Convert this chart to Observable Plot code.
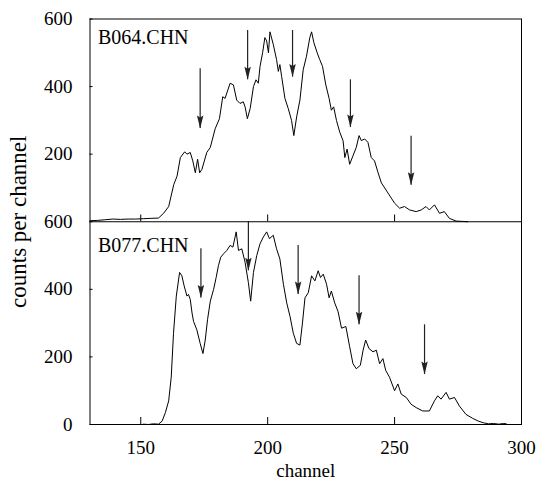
<!DOCTYPE html>
<html>
<head>
<meta charset="utf-8">
<script src="https://cdn.jsdelivr.net/npm/d3@7"></script>
<script src="https://cdn.jsdelivr.net/npm/@observablehq/plot@0.6"></script>
<style>
  body { margin: 0; background: #fff; }
</style>
</head>
<body>
<div id="chart"></div>
<script>
// ---- data (channel, counts per channel) ----
const panelNames = ["B064.CHN", "B077.CHN"];
const xLabel = "channel";
const yLabel = "counts per channel";

const b064 = [
  [130,3],[133,4],[136,6],[139,8],[142,7],[145,8],[148,8],[151,9],[154,10],[157,11],
  [159,25],[161,45],[163,110],[164.3,135],[165.6,190],[167.3,207],[168.2,200],[169.5,205],
  [170.5,180],[171.5,145],[172.4,185],[173.2,145],[174.1,155],[176,205],[177.4,220],
  [179.3,275],[181,305],[182.3,370],[183.2,365],[185.2,410],[186.5,405],[187.8,360],
  [189.1,350],[190.4,355],[191.1,340],[192,305],[193.1,335],[194.4,400],[195.4,420],
  [196.3,410],[197,460],[198,500],[198.9,545],[199.6,535],[200.3,500],[200.9,562],
  [202.2,525],[203.5,480],[204.2,445],[204.8,465],[205.5,430],[206.8,365],[208.1,335],
  [209.4,300],[210.3,255],[211.4,310],[212.7,360],[214,450],[215.3,490],[216.6,545],
  [217.3,562],[218.2,530],[219.5,500],[220.5,480],[221.6,460],[222.9,405],[224.2,365],
  [225.1,330],[226,340],[227.1,300],[228.4,265],[229.7,240],[230.4,190],[231.3,215],
  [232.3,170],[233.6,195],[234.9,220],[236,255],[236.9,240],[238.2,245],[239.5,235],
  [240.8,190],[242.1,180],[243.5,145],[244.8,115],[246.1,100],[247.4,85],[248.7,70],
  [250,55],[252,40],[253.9,45],[255.9,35],[258.5,30],[260.5,35],[262.4,45],[263.7,35],
  [265.7,50],[267.7,25],[269.6,30],[271.6,10],[274.2,2],[276.8,1],[278.8,0]
];

const b077 = [
  [151,1],[153,0],[155,2],[157,1],[158.4,10],[159.7,35],[161,70],[162,140],[162.9,270],
  [164,380],[165.3,450],[166.2,440],[167.1,410],[168.2,380],[168.8,385],[169.5,370],
  [170.2,330],[170.8,305],[172.1,280],[173.4,240],[174.5,210],[175.4,250],[176.3,310],
  [177.4,365],[178.7,400],[179.7,435],[180.6,470],[181.5,495],[182.6,505],[183.9,515],
  [185.2,530],[186.3,525],[187.6,570],[188.5,515],[189.8,520],[191.1,480],[192.4,420],
  [193.3,365],[194.4,450],[195.7,500],[197,535],[198.3,555],[199.6,570],[200.7,550],
  [202.2,560],[203.5,520],[204.8,490],[206.2,415],[207.5,360],[208.8,320],[210.1,270],
  [211.4,240],[212.7,235],[213.7,300],[214.7,375],[216,390],[217.3,440],[218.6,425],
  [219.9,455],[220.8,435],[221.9,445],[223.2,415],[224.2,375],[225.1,395],[226.4,360],
  [227.7,335],[229.1,285],[230.8,290],[232.3,230],[233.6,180],[234.9,165],[236.5,175],
  [237.6,220],[238.6,250],[239.9,225],[241.5,215],[242.8,220],[244.1,180],[245.4,195],
  [246.5,160],[248,140],[250,100],[251.3,120],[252.6,90],[254.6,80],[256.5,60],[258.5,50],
  [261.1,40],[263.7,40],[265.7,70],[267,85],[268.3,75],[270.3,95],[271.6,75],[273.6,80],
  [275.5,55],[278.1,30],[280.8,18],[283,10],[285,5],[287,2],[289,3],[291,1],[293,3],[294,2]
];

// arrows: channel, start count, tip count
const arrowsTopX    = [173.4, 192.1, 209.8, 232.6, 256.5];
const arrowsTopFrom = [453, 566, 566, 420, 253];
const arrowsTopTo   = [276, 420, 428, 279, 108];
const arrowsBotX    = [173.7, 192.4, 212.0, 236.0, 261.8];
const arrowsBotFrom = [520, 600, 530, 440, 295];
const arrowsBotTo   = [374, 455, 385, 295, 148];

const xTicks = [150, 200, 250, 300];
const yTicks = [0, 200, 400, 600];

// ---- layout: two stacked panels sharing one y scale ----
const PANEL = 600;               // height of one panel in counts
const lift = v => v + PANEL;     // top panel sits above the bottom one

const arrows = [
  ...arrowsTopX.map((x, i) => ({x, from: lift(arrowsTopFrom[i]), to: lift(arrowsTopTo[i])})),
  ...arrowsBotX.map((x, i) => ({x, from: arrowsBotFrom[i], to: arrowsBotTo[i]}))
];

const arrowHead = {
  draw(context) {
    context.moveTo(0, 0);
    context.lineTo(-3.2, -13);
    context.lineTo(0, -11);
    context.lineTo(3.2, -13);
    context.closePath();
  }
};

const serif = "'Liberation Serif', 'Times New Roman', serif";
const allYTicks = [...yTicks, ...yTicks.filter(t => t > 0).map(lift)];

const chart = Plot.plot({
  width: 540,
  height: 485,
  marginLeft: 89.5,
  marginRight: 19,
  marginTop: 18.5,
  marginBottom: 61,
  style: {fontFamily: serif, fontSize: "19px", background: "#fff"},
  x: {domain: [130, 300]},
  y: {domain: [0, 2 * PANEL]},
  marks: [
    Plot.line(b064, {x: d => d[0], y: d => lift(d[1]), stroke: "#000", strokeWidth: 1}),
    Plot.line(b077, {x: d => d[0], y: d => d[1], stroke: "#000", strokeWidth: 1}),
    Plot.ruleX(arrows, {x: "x", y1: "from", y2: "to", stroke: "#222", strokeWidth: 1.2}),
    Plot.dot(arrows, {x: "x", y: "to", symbol: arrowHead, fill: "#222", stroke: null, r: 4}),
    Plot.frame({stroke: "#000", strokeWidth: 1}),
    Plot.ruleY([PANEL], {stroke: "#000", strokeWidth: 1.2}),
    Plot.ruleX(xTicks, {x: d => d, y1: PANEL, y2: PANEL + 20, stroke: "#000"}),
    Plot.axisX({ticks: xTicks, tickSize: -7, tickPadding: 23, tickFormat: d => String(d),
                label: xLabel, labelAnchor: "center", labelArrow: "none", labelOffset: 52,
                fontSize: 19, fontFamily: serif}),
    Plot.axisY({ticks: allYTicks, tickSize: -3, tickPadding: 20.5,
                tickFormat: d => String(d > PANEL ? d - PANEL : d),
                label: null, fontSize: 19, fontFamily: serif}),
    Plot.text([yLabel], {frameAnchor: "left", text: d => d, rotate: -90, dx: -71.5,
                textAnchor: "middle", lineAnchor: "middle", fontSize: 23, fontFamily: serif, fill: "#000"}),
    Plot.text([panelNames[0]], {x: 130, y: 2 * PANEL, text: d => d, textAnchor: "start", lineAnchor: "top",
                dx: 8, dy: 11, fontSize: 20, fontFamily: serif, fill: "#000"}),
    Plot.text([panelNames[1]], {x: 130, y: PANEL, text: d => d, textAnchor: "start", lineAnchor: "top",
                dx: 8, dy: 16, fontSize: 20, fontFamily: serif, fill: "#000"})
  ]
});
document.getElementById("chart").appendChild(chart);
</script>
</body>
</html>
